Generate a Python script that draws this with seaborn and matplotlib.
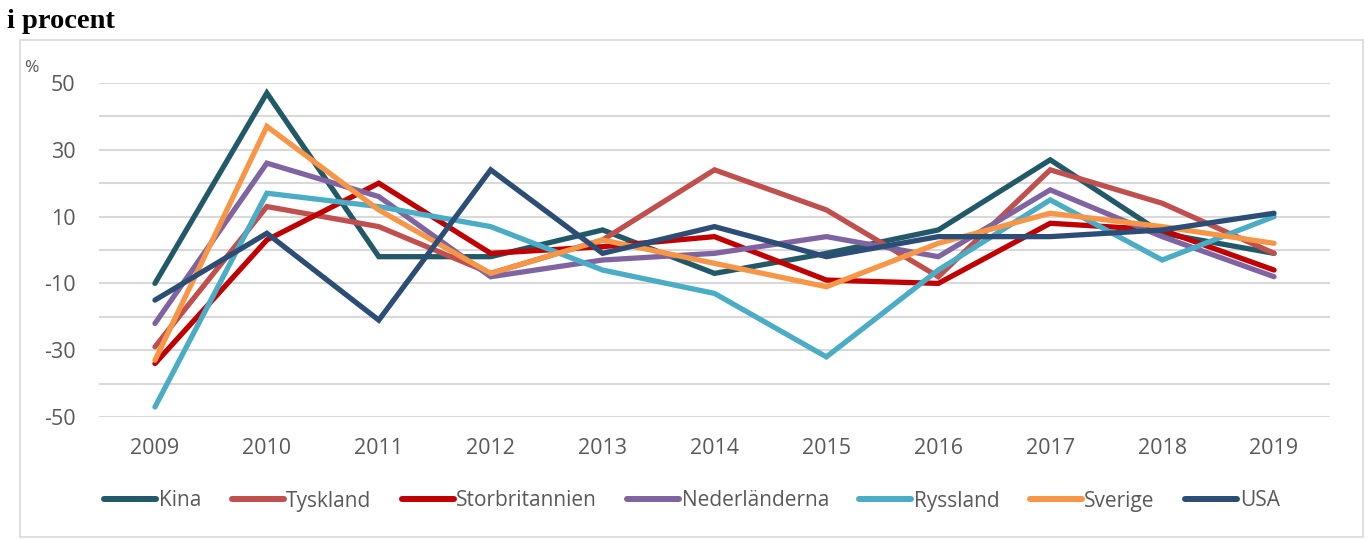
import matplotlib
matplotlib.use("Agg")
import matplotlib.pyplot as plt
from matplotlib.patches import Rectangle
from matplotlib.lines import Line2D
import numpy as np
import pandas as pd
import seaborn as sns

# Data (procent)
years = [2009, 2010, 2011, 2012, 2013, 2014, 2015, 2016, 2017, 2018, 2019]
kina           = [-10, 47, -2, -2, 6, -7, -1, 6, 27, 5, -1]
tyskland       = [-29, 13, 7, -7, 3, 24, 12, -8, 24, 14, -1]
storbritannien = [-34, 3, 20, -1, 1, 4, -9, -10, 8, 6, -6]
nederlanderna  = [-22, 26, 16, -8, -3, -1, 4, -2, 18, 4, -8]
ryssland       = [-47, 17, 13, 7, -6, -13, -32, -6, 15, -3, 10]
sverige        = [-33, 37, 12, -7, 3, -4, -11, 2, 11, 7, 2]
usa            = [-15, 5, -21, 24, -1, 7, -2, 4, 4, 6, 11]

series_names = ["Kina", "Tyskland", "Storbritannien", "Nederländerna",
                "Ryssland", "Sverige", "USA"]
series_vals  = [kina, tyskland, storbritannien, nederlanderna,
                ryssland, sverige, usa]
colors = ["#215968", "#C0504D", "#C00000", "#8064A2",
          "#4BACC6", "#F79646", "#2C4D75"]

y_ticks = [-50, -30, -10, 10, 30, 50]
y_grid  = [-40, -20, 0, 20, 40]

TEXT_GREY = "#595959"
GRID_GREY = "#D9D9D9"

df = pd.concat(
    [pd.DataFrame({"year": years, "value": v, "land": n})
     for n, v in zip(series_names, series_vals)],
    ignore_index=True,
)

sns.set_theme(style="white")
plt.rcParams["font.family"] = ["Open Sans", "DejaVu Sans"]
plt.rcParams["axes.unicode_minus"] = False

W, H = 1370, 539
fig = plt.figure(figsize=(W / 100, H / 100), dpi=100)
fig.patch.set_facecolor("white")

# chart border
fig.add_artist(Rectangle((20 / W, 2 / H), 1343 / W, (H - 40 - 2) / H,
                         transform=fig.transFigure, fill=False,
                         edgecolor=GRID_GREY, linewidth=1.2))

ax = fig.add_axes([99 / W, (H - 417) / H, (1330 - 99) / W, 334 / H])
palette = dict(zip(series_names, colors))
sns.lineplot(data=df, x="year", y="value", hue="land", hue_order=series_names,
             palette=palette, linewidth=3.8, ax=ax, legend=False,
             solid_capstyle="round", solid_joinstyle="miter")

ax.set_xlim(2008.5, 2019.5)
ax.set_ylim(-50, 50)
ax.set_xticks(years)
ax.set_xticklabels([str(y) for y in years])
ax.set_yticks(y_ticks)
ax.set_yticks(y_grid, minor=True)
ax.grid(True, which="both", axis="y", color=GRID_GREY, linewidth=1.5)
ax.grid(False, axis="x")
ax.set_axisbelow(True)
for s in ax.spines.values():
    s.set_visible(False)
ax.tick_params(axis="both", which="both", length=0, labelsize=15.5,
               labelcolor=TEXT_GREY)
ax.tick_params(axis="y", pad=17)
ax.tick_params(axis="x", pad=15)
ax.set_xlabel("")
ax.set_ylabel("")

fig.text(31 / W, 1 - 68 / H, "%", fontsize=12.5, color=TEXT_GREY,
         ha="center", va="center")
fig.text(7 / W, 1 - 21 / H, "i procent", fontsize=20.5, fontweight="bold",
         family="Liberation Serif", ha="left", va="center", color="black")

handles = [Line2D([0], [0], color=c, linewidth=4.3, solid_capstyle="round")
           for c in colors]
leg = fig.legend(handles, series_names, loc="center", ncol=7,
                 bbox_to_anchor=(692 / W, 1 - 501 / H), frameon=False,
                 fontsize=15, handlelength=2.5, handletextpad=0.12,
                 columnspacing=1.45)
for t in leg.get_texts():
    t.set_color(TEXT_GREY)

fig.savefig("out.png", dpi=100)
